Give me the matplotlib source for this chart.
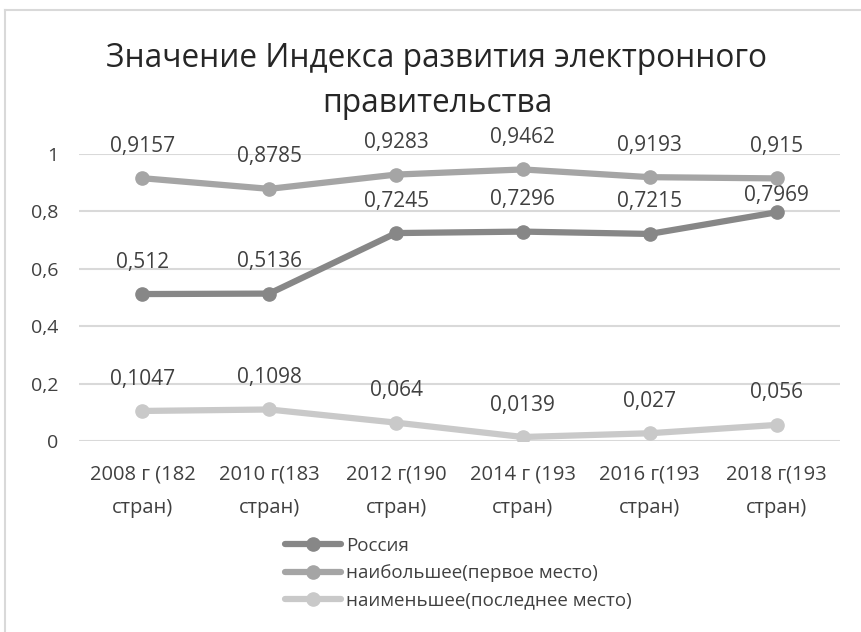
import matplotlib
matplotlib.use('Agg')
import matplotlib.pyplot as plt
from matplotlib.lines import Line2D
from matplotlib.ticker import FuncFormatter

# data
categories = ['2008 г (182\nстран)', '2010 г(183\nстран)', '2012 г(190\nстран)',
              '2014 г (193\nстран)', '2016 г(193\nстран)', '2018 г(193\nстран)']
russia = [0.512, 0.5136, 0.7245, 0.7296, 0.7215, 0.7969]
best = [0.9157, 0.8785, 0.9283, 0.9462, 0.9193, 0.915]
worst = [0.1047, 0.1098, 0.064, 0.0139, 0.027, 0.056]
series_names = ['Россия', 'наибольшее(первое место)', 'наименьшее(последнее место)']
title = 'Значение Индекса развития электронного\nправительства'

plt.rcParams['font.family'] = ['Open Sans', 'DejaVu Sans']

W, H = 862, 632
fig = plt.figure(figsize=(W / 100, H / 100), dpi=100)

# chart area border (only top and left edges visible in the reference)
fig.add_artist(Line2D([5 / W, 5 / W], [0, 1 - 10 / H], color='#d9d9d9', lw=1.5))
fig.add_artist(Line2D([5 / W, 1], [1 - 10 / H, 1 - 10 / H], color='#d9d9d9', lw=1.5))

ax = fig.add_axes([79 / W, 1 - 441 / H, (840 - 79) / W, (441 - 154) / H])

x = list(range(len(categories)))
colors = ['#878787', '#a5a5a5', '#c9c9c9']
# Excel nudged the last Russia label down so it sits under the top line
label_offset = {(0, 5): 12}
for si, (vals, name, c) in enumerate(zip([russia, best, worst], series_names, colors)):
    ax.plot(x, vals, color=c, lw=4.5, marker='o', markersize=9.5, label=name,
            solid_capstyle='round', zorder=3)
    for xi, v in zip(x, vals):
        ax.annotate(str(v).replace('.', ','), (xi, v),
                    xytext=(0, label_offset.get((si, xi), 23)),
                    textcoords='offset points', ha='center', va='center',
                    fontsize=15, color='#404040')

ax.set_xlim(-0.5, len(categories) - 0.5)
ax.set_ylim(0, 1)
ax.set_yticks([0, 0.2, 0.4, 0.6, 0.8, 1.0])
ax.yaxis.set_major_formatter(FuncFormatter(lambda v, p: f'{v:g}'.replace('.', ',')))
ax.set_xticks(x)
ax.set_xticklabels(categories, fontsize=14.5, color='#404040', linespacing=1.9)
ax.tick_params(axis='y', length=0, pad=15, labelsize=14, labelcolor='#404040')
ax.tick_params(axis='x', length=0, pad=17)
ax.grid(axis='y', color='#d9d9d9', lw=1.5)
ax.set_axisbelow(True)
for s in ax.spines.values():
    s.set_visible(False)

fig.text(437 / W, 1 - 81 / H, title, ha='center', va='center', fontsize=22.8,
         color='#262626', linespacing=1.5)

fig.legend(loc='upper left', bbox_to_anchor=(268 / W, 1 - 520 / H), frameon=False,
           fontsize=13.5, handlelength=3.0, handletextpad=0.25, labelspacing=0.5,
           labelcolor='#404040')

fig.savefig('out.png', dpi=100)
